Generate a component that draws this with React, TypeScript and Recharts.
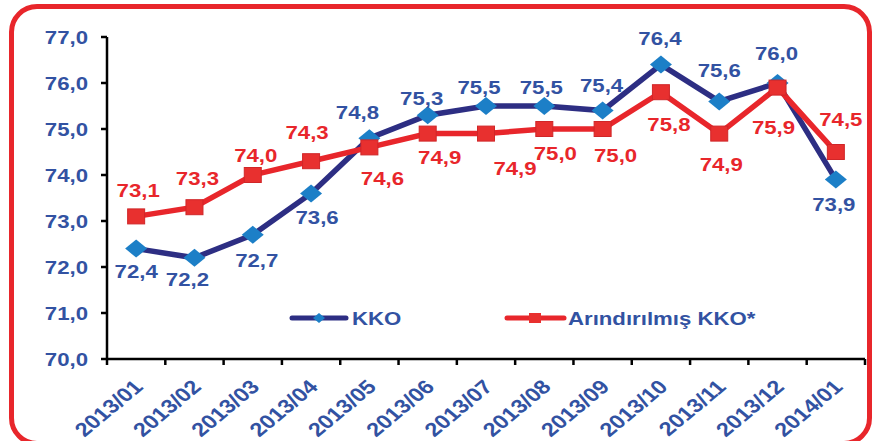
import { Line, LineChart, XAxis, YAxis, LabelList } from "recharts";

const categories = [
  "2013/01", "2013/02", "2013/03", "2013/04", "2013/05", "2013/06", "2013/07",
  "2013/08", "2013/09", "2013/10", "2013/11", "2013/12", "2014/01",
];
const kkoValues = [72.4, 72.2, 72.7, 73.6, 74.8, 75.3, 75.5, 75.5, 75.4, 76.4, 75.6, 76.0, 73.9];
const adjustedValues = [73.1, 73.3, 74.0, 74.3, 74.6, 74.9, 74.9, 75.0, 75.0, 75.8, 74.9, 75.9, 74.5];
const yTicks = [70, 71, 72, 73, 74, 75, 76, 77];

// where each value label sits relative to its point (dx, dy to text centre)
const kkoLabelOffsets: [number, number][] = [
  [0, 23], [-7, 22], [4, 26], [6, 24], [-12, -26], [-6, -17], [-7, -19],
  [-3, -19], [-1, -25], [-1, -26], [0, -31], [-1, -30], [-2, 25],
];
const adjustedLabelOffsets: [number, number][] = [
  [2, -26], [3, -29], [3, -20], [-4, -29], [13, 31], [12, 24], [29, 35],
  [11, 24], [13, 26], [8, 32], [2, 31], [-4, 40], [5, -33],
];

const data = categories.map((period, i) => ({
  period,
  kko: kkoValues[i],
  adjusted: adjustedValues[i],
}));

const NAVY = "#2d2e83";
const DIAMOND = "#1c7fc7";
const RED = "#e8262b";
const BLUE_TEXT = "#3252a2";
const FONT = "'Liberation Sans', Arial, sans-serif";
const STRETCH = 1.2;

const fmt = (v: number) => v.toFixed(1).replace(".", ",");

function StretchText({
  x,
  y,
  anchor = "middle",
  fill,
  size = 18.5,
  rotate,
  children,
}: {
  x: number;
  y: number;
  anchor?: "start" | "middle" | "end";
  fill: string;
  size?: number;
  rotate?: number;
  children: React.ReactNode;
}) {
  const rot = rotate ? ` rotate(${rotate})` : "";
  return (
    <text
      transform={`translate(${x},${y}) scale(${STRETCH},1)${rot}`}
      textAnchor={anchor}
      fill={fill}
      fontFamily={FONT}
      fontWeight={700}
      fontSize={size}
    >
      {children}
    </text>
  );
}

const makeLabel = (offsets: [number, number][], color: string) => (props: any) => {
  const { x, y, value, index } = props;
  const [dx, dy] = offsets[index] ?? [0, -20];
  return (
    <StretchText x={Number(x) + dx} y={Number(y) + dy + 6.5} fill={color}>
      {fmt(Number(value))}
    </StretchText>
  );
};

const DiamondDot = (props: any) => {
  const { cx, cy, index } = props;
  return (
    <path
      key={`d-${index}`}
      d={`M${cx},${cy - 9} L${cx + 11},${cy} L${cx},${cy + 9} L${cx - 11},${cy} Z`}
      fill={DIAMOND}
    />
  );
};

const SquareDot = (props: any) => {
  const { cx, cy, index } = props;
  return (
    <rect
      key={`s-${index}`}
      x={cx - 8.5}
      y={cy - 7.5}
      width={17}
      height={15}
      fill="#e8302f"
      stroke="#d02628"
      strokeWidth={1}
    />
  );
};

const YTick = (props: any) => {
  const { x, y, payload } = props;
  return (
    <StretchText x={x} y={y + 6.5} anchor="end" fill={BLUE_TEXT}>
      {fmt(Number(payload.value))}
    </StretchText>
  );
};

const XTick = (props: any) => {
  const { x, y, payload, visibleTicksCount } = props;
  const off = payload.offset ?? 0;
  const isLast = payload.index === (visibleTicksCount ?? categories.length) - 1;
  return (
    <g>
      <line x1={x - off} x2={x - off} y1={y} y2={y + 6} stroke="#000" strokeWidth={2.5} />
      {isLast ? <line x1={x + off} x2={x + off} y1={y} y2={y + 6} stroke="#000" strokeWidth={2.5} /> : null}
      <StretchText x={x + 8} y={y + 29} anchor="end" fill={BLUE_TEXT} size={19.5} rotate={-45}>
        {payload.value}
      </StretchText>
    </g>
  );
};

function ChartLegend() {
  return (
    <svg width={875} height={441} style={{ position: "absolute", left: 0, top: 0, pointerEvents: "none" }}>
      <line x1={292} x2={346} y1={318} y2={318} stroke={NAVY} strokeWidth={5} strokeLinecap="round" />
      <path d="M319,313 L325,318 L319,323 L313,318 Z" fill={DIAMOND} />
      <StretchText x={352} y={324.5} anchor="start" fill={BLUE_TEXT}>
        KKO
      </StretchText>
      <line x1={507} x2={564} y1={318} y2={318} stroke={RED} strokeWidth={5} strokeLinecap="round" />
      <rect x={529} y={313} width={12} height={10} fill="#e8302f" />
      <StretchText x={568} y={324.5} anchor="start" fill={BLUE_TEXT}>
        Arındırılmış KKO*
      </StretchText>
    </svg>
  );
}

export default function App() {
  return (
    <div
      style={{
        position: "fixed",
        left: 0,
        top: 0,
        width: 875,
        height: 441,
        overflow: "hidden",
        background: "#fff",
      }}
    >
      <div
        style={{
          position: "absolute",
          left: 9,
          top: 4,
          width: 863,
          height: 442,
          boxSizing: "border-box",
          border: `5px solid ${RED}`,
          borderRadius: 28,
        }}
      />
      <div style={{ position: "absolute", left: 0, top: 0 }}>
        <LineChart width={875} height={441} data={data} margin={{ top: 37, right: 10, bottom: 0, left: 0 }}>
          <XAxis
            dataKey="period"
            scale="band"
            height={82}
            interval={0}
            axisLine={{ stroke: "#000", strokeWidth: 2.5 }}
            tickLine={false}
            tickSize={0}
            tickMargin={0}
            tick={<XTick />}
          />
          <YAxis
            domain={[70, 77]}
            ticks={yTicks}
            width={107}
            interval={0}
            axisLine={{ stroke: "#000", strokeWidth: 2.5 }}
            tickLine={{ stroke: "#000", strokeWidth: 2.5 }}
            tickSize={6}
            tickMargin={13}
            tick={<YTick />}
          />
          <Line
            type="linear"
            dataKey="kko"
            stroke={NAVY}
            strokeWidth={5.5}
            dot={DiamondDot}
            activeDot={false}
            isAnimationActive={false}
          >
            <LabelList dataKey="kko" content={makeLabel(kkoLabelOffsets, BLUE_TEXT)} />
          </Line>
          <Line
            type="linear"
            dataKey="adjusted"
            stroke={RED}
            strokeWidth={5.5}
            dot={SquareDot}
            activeDot={false}
            isAnimationActive={false}
          >
            <LabelList dataKey="adjusted" content={makeLabel(adjustedLabelOffsets, RED)} />
          </Line>
        </LineChart>
      </div>
      <ChartLegend />
    </div>
  );
}
